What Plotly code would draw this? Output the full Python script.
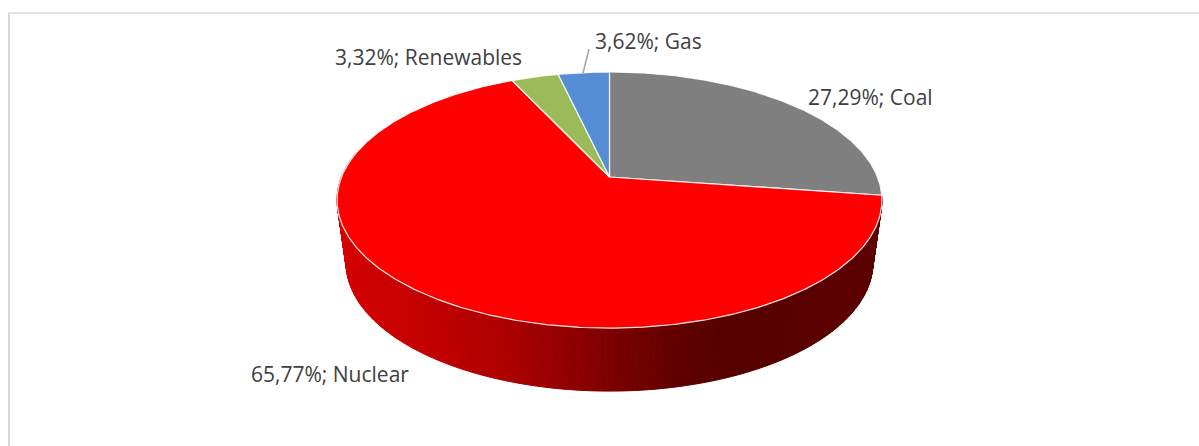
import numpy as np
import plotly.graph_objects as go

# Data
categories = ["Coal", "Nuclear", "Renewables", "Gas"]
shares = [27.29, 65.77, 3.32, 3.62]
top_colors = ["#7f7f7f", "#ff0000", "#9bbb59", "#558ed5"]
label_x = [806, 249, 333, 593]
label_y = [97, 374, 57, 41]

# Geometry of the tilted disc (perspective projection of a circle)
CX, K = 609.5, 0.18
TOP = dict(y0=177.0, H=123.9, R=268.0)
BOT = dict(y0=240.0, H=123.9, R=259.0)
FRONT_STEPS = 300
GRAD_STOPS_X = [337, 420, 500, 560, 610, 680, 730, 882]
GRAD_STOPS_R = [214, 196, 175, 150, 125, 96, 86, 94]


def rim(theta_deg, d):
    t = np.radians(theta_deg)
    u, v = np.sin(t), np.cos(t)
    s = 1 / (1 + K * v)
    return CX + d["R"] * u * s, d["y0"] - d["H"] * v * s


fig = go.Figure()

# Side wall of the largest slice, shaded left to right
cum = np.cumsum([0] + shares) * 3.6
wall_start, wall_end = cum[1], cum[2]
th = np.linspace(wall_start, min(wall_end, 282), FRONT_STEPS + 1)
for a, b in zip(th[:-1], th[1:]):
    seg = np.linspace(a, b, 3)
    xt, yt = rim(seg, TOP)
    xb, yb = rim(seg[::-1], BOT)
    xs = np.r_[xt, xb, xt[0]]
    ys = np.r_[yt, yb, yt[0]]
    r = int(np.interp(xs.mean(), GRAD_STOPS_X, GRAD_STOPS_R))
    col = f"rgb({r},0,0)"
    fig.add_trace(go.Scatter(x=xs, y=ys, mode="lines", fill="toself", fillcolor=col,
                             line=dict(color=col, width=1), hoverinfo="skip", showlegend=False))

# Top faces
for name, start, end, color in zip(categories, cum[:-1], cum[1:], top_colors):
    seg = np.linspace(start, end, max(int(end - start) * 2, 8))
    xt, yt = rim(seg, TOP)
    xs = np.r_[CX, xt, CX]
    ys = np.r_[TOP["y0"], yt, TOP["y0"]]
    fig.add_trace(go.Scatter(x=xs, y=ys, mode="lines", fill="toself", fillcolor=color,
                             line=dict(color="rgba(255,255,255,0.9)", width=1.2),
                             name=name, hoverinfo="name", showlegend=False))

# Leader line of the Gas label
fig.add_shape(type="line", x0=583, y0=73, x1=589, y1=49, line=dict(color="#a6a6a6", width=1.5))

# Chart frame
fig.add_shape(type="line", x0=8.5, y0=13, x1=1199, y1=13, line=dict(color="#d9d9d9", width=1.5))
fig.add_shape(type="line", x0=9, y0=13, x1=9, y1=446, line=dict(color="#d9d9d9", width=2))

for name, v, x, y in zip(categories, shares, label_x, label_y):
    txt = f"{v:.2f}".replace(".", ",") + "%; " + name
    fig.add_annotation(x=x, y=y, text=txt, showarrow=False, xanchor="left", yanchor="middle",
                       font=dict(family="Open Sans", size=21, color="#404040"))

fig.update_xaxes(range=[0, 1199], visible=False, fixedrange=True)
fig.update_yaxes(range=[446, 0], visible=False, fixedrange=True)
fig.update_layout(width=1199, height=446, margin=dict(l=0, r=0, t=0, b=0),
                  paper_bgcolor="white", plot_bgcolor="white", showlegend=False)

fig.write_html("out.html", config={"displayModeBar": False},
               post_script="document.body.style.margin='0';document.body.style.overflow='hidden';")
